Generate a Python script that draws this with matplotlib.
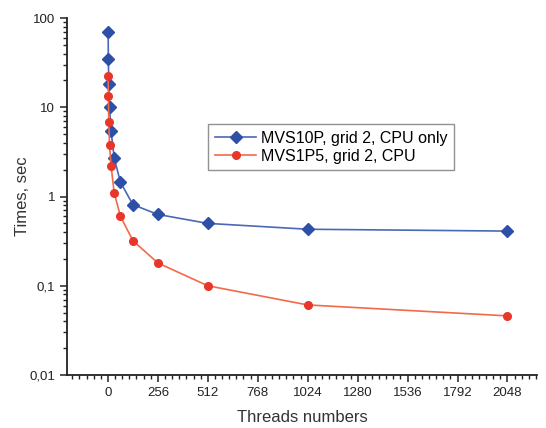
import matplotlib
matplotlib.use("Agg")
import matplotlib.pyplot as plt
from matplotlib.ticker import FixedLocator, MultipleLocator, LogLocator, FuncFormatter, NullFormatter

plt.rcParams['font.family'] = ['Liberation Sans', 'DejaVu Sans']

threads = [1, 2, 4, 8, 16, 32, 64, 128, 256, 512, 1024, 2048]
mvs10p_times = [70, 34.6, 18.1, 10, 5.4, 2.7, 1.45, 0.81, 0.63, 0.50, 0.43, 0.41]
mvs1p5_times = [22.3, 13.3, 6.9, 3.8, 2.2, 1.1, 0.6, 0.32, 0.18, 0.10, 0.061, 0.046]
x_ticks = [0, 256, 512, 768, 1024, 1280, 1536, 1792, 2048]
y_ticks = [0.01, 0.1, 1, 10, 100]
y_tick_labels = ['0,01', '0,1', '1', '10', '100']

fig = plt.figure(figsize=(5.46, 4.28), dpi=100)
ax = fig.add_axes([0.1227, 0.1238, 0.861, 0.834])

ax.plot(threads, mvs10p_times, color='#4a68b8', lw=1.2, marker='D', ms=6,
        mfc='#2d4fa6', mec='#2d4fa6', label='MVS10P, grid 2, CPU only')
ax.plot(threads, mvs1p5_times, color='#f26a48', lw=1.2, marker='o', ms=5.5,
        mfc='#e8362a', mec='#e8362a', label='MVS1P5, grid 2, CPU')

ax.set_yscale('log')
ax.set_ylim(0.01, 100)
ax.set_xlim(-210, 2200)

ax.xaxis.set_major_locator(FixedLocator(x_ticks))
ax.xaxis.set_minor_locator(MultipleLocator(256 / 7))
ax.yaxis.set_major_locator(FixedLocator(y_ticks))
ax.yaxis.set_major_formatter(FuncFormatter(lambda v, _: y_tick_labels[y_ticks.index(v)] if v in y_ticks else ''))
ax.yaxis.set_minor_locator(LogLocator(base=10, subs=range(2, 10)))
ax.yaxis.set_minor_formatter(NullFormatter())

for s in ['top', 'right']:
    ax.spines[s].set_visible(False)
for s in ['left', 'bottom']:
    ax.spines[s].set_linewidth(1.3)
    ax.spines[s].set_color('#222222')

ax.tick_params(which='major', length=5, width=1.1, labelsize=9.5, colors='#222222')
ax.tick_params(which='minor', length=3, width=1.0, colors='#222222')

ax.set_xlabel('Threads numbers', fontsize=12, color='#333333', labelpad=8)
ax.set_ylabel('Times, sec', fontsize=12, color='#333333')
ax.yaxis.set_label_coords(-0.078, 0.5)

leg = ax.legend(loc='upper left', bbox_to_anchor=(0.284, 0.725), fontsize=11.5,
                frameon=True, fancybox=False, edgecolor='#777777', borderpad=0.4,
                handlelength=2.6, handletextpad=0.3, labelspacing=0.2)
leg.get_frame().set_linewidth(1.0)

fig.savefig('out.png', dpi=100)
